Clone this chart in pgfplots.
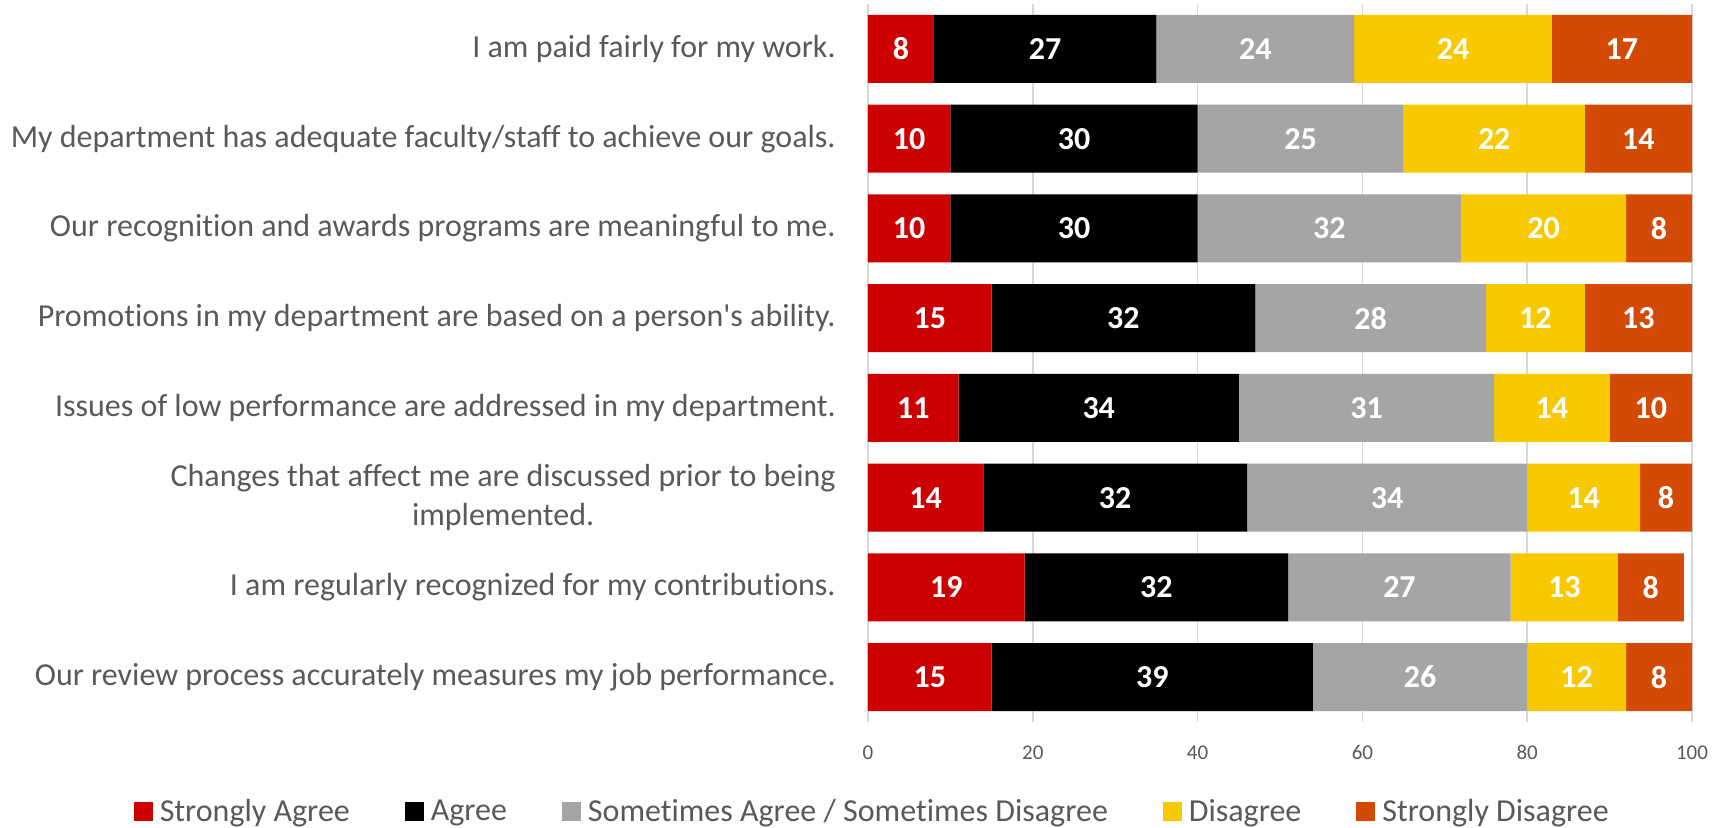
\documentclass[border=0pt]{standalone}
\usepackage{fontspec}
\setmainfont{Carlito}[Ligatures={NoCommon,TeXOff}]
\usepackage{pgfplots}
\usepackage{pgfplotstable}
\pgfplotsset{compat=1.18}
\definecolor{cSA}{HTML}{CC0000}
\definecolor{cA}{HTML}{000000}
\definecolor{cS}{HTML}{A5A5A5}
\definecolor{cD}{HTML}{F8C900}
\definecolor{cSD}{HTML}{D34A04}
\definecolor{labelgray}{HTML}{595959}
\definecolor{gridgray}{HTML}{D9D9D9}

\pgfplotstableread{
cat val lab
0 8 8
1 10 10
2 10 10
3 15 15
4 11 11
5 14 14
6 19 19
7 15 15
}\tSA
\pgfplotstableread{
cat val lab
0 27 27
1 30 30
2 30 30
3 32 32
4 34 34
5 32 32
6 32 32
7 39 39
}\tA
\pgfplotstableread{
cat val lab
0 24 24
1 25 25
2 32 32
3 28 28
4 31 31
5 34 34
6 27 27
7 26 26
}\tS
\pgfplotstableread{
cat val lab
0 24 24
1 22 22
2 20 20
3 12 12
4 14 14
5 13.7 14
6 13 13
7 12 12
}\tD
\pgfplotstableread{
cat val lab
0 17 17
1 13 14
2 8 8
3 13 13
4 10 10
5 6.3 8
6 8 8
7 8 8
}\tSD

\pgfplotsset{
  seglabels/.style={
    point meta=explicit symbolic,
    nodes near coords,
    every node near coord/.style={anchor=center, font=\bfseries\fontsize{16}{19}\selectfont, text=white},
  },
}

\begin{document}
\begin{tikzpicture}
\begin{axis}[
  at={(434pt,52.5pt)}, anchor=south west,
  scale only axis, width=412pt, height=359pt,
  xbar stacked, bar width=34pt,
  xmin=0, xmax=100, ymin=-0.5, ymax=7.5,
  y dir=reverse,
  xtick={0,20,...,100},
  ytick={0,...,7},
  yticklabels={
    I am paid fairly for my work.,
    My department has adequate faculty/staff to achieve our goals.,
    Our recognition and awards programs are meaningful to me.,
    Promotions in my department are based on a person's ability.,
    Issues of low performance are addressed in my department.,
    {Changes that affect me are discussed prior to being\\implemented.},
    I am regularly recognized for my contributions.,
    Our review process accurately measures my job performance.},
  yticklabel style={font=\fontsize{16}{19.5}\selectfont, text=labelgray, align=center, inner sep=0pt, xshift=-16pt},
  xticklabel style={font=\fontsize{10.5}{12}\selectfont, text=labelgray, inner sep=0pt, yshift=-11.5pt},
  /pgf/number format/assume math mode=true,
  xmajorgrids, major grid style={gridgray, line width=0.8pt},
  axis line style={draw=none},
  tick style={draw=none},
  legend columns=5,
  legend style={at={(0.004,-0.125)}, anchor=center, draw=none, fill=none,
    font=\fontsize{16}{19}\selectfont, text=labelgray,
    /tikz/every odd column/.append style={column sep=3.5pt},
    /tikz/every even column/.append style={column sep=27.5pt},
    nodes={inner sep=0pt}},
  legend image code/.code={\fill[#1] (0pt,-4.75pt) rectangle (9.5pt,4.75pt);},
]
\addplot[fill=cSA, draw=none, seglabels] table[x=val, y=cat, meta=lab] {\tSA};
\addplot[fill=cA, draw=none, seglabels] table[x=val, y=cat, meta=lab] {\tA};
\addplot[fill=cS, draw=none, seglabels] table[x=val, y=cat, meta=lab] {\tS};
\addplot[fill=cD, draw=none, seglabels] table[x=val, y=cat, meta=lab] {\tD};
\addplot[fill=cSD, draw=none, seglabels] table[x=val, y=cat, meta=lab] {\tSD};
\legend{Strongly Agree, Agree, Sometimes Agree / Sometimes Disagree, Disagree, Strongly Disagree}
\end{axis}
\pgfresetboundingbox
\useasboundingbox (0,0) rectangle (862.5pt,413.5pt);
\end{tikzpicture}
\end{document}
